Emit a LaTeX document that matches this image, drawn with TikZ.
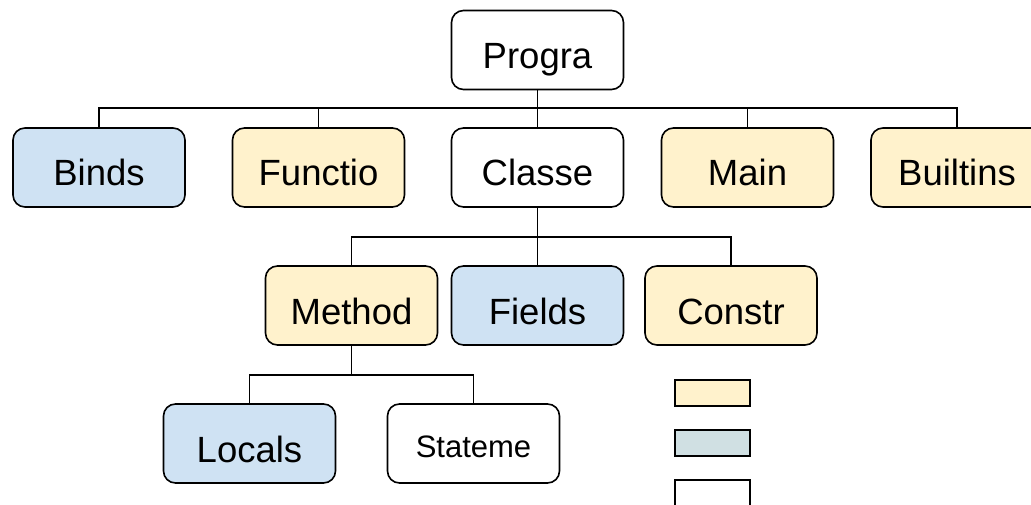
\documentclass[tikz,border=0pt]{standalone}
\usepackage{fontspec}
\setmainfont{Liberation Sans}
\definecolor{tblue}{HTML}{CFE2F3}
\definecolor{tyellow}{HTML}{FFF2CC}
\definecolor{tgrey}{HTML}{D0E0E3}
\begin{document}
\begin{tikzpicture}[x=1pt,y=-1pt,
  tbox/.style={draw, rounded corners=12pt, line width=1.6pt, minimum width=172pt, minimum height=79pt, inner sep=0pt, font=\fontsize{36.5}{40}\selectfont, text height=37pt, text depth=0pt},
  tsmall/.style={font=\fontsize{31}{36}\selectfont, text height=27pt},
  legbox/.style={draw, line width=1.8pt, minimum width=75pt, minimum height=26pt, inner sep=0pt},
  link/.style={line width=1.4pt}]
\useasboundingbox (0,0) rectangle (1031,505);
\node[tbox] (prog) at (537.5,50){Progra};
\node[tbox, fill=tblue] (binds) at (99,167.5){Binds};
\node[tbox, fill=tyellow] (func) at (318.5,167.5){Functio};
\node[tbox] (cls) at (537.5,167.5){Classe};
\node[tbox, fill=tyellow] (main) at (747.5,167.5){Main};
\node[tbox, fill=tyellow] (builtins) at (957,167.5){Builtins};
\coordinate (bus0) at (537.5,108);
\draw[link] (prog) -- (bus0);
\draw[link] (bus0) -| (binds);
\draw[link] (bus0) -| (func);
\draw[link] (bus0) -- (cls);
\draw[link] (bus0) -| (main);
\draw[link] (bus0) -| (builtins);
\node[tbox, fill=tyellow] (meth) at (351.5,305.5){Method};
\node[tbox, fill=tblue] (fields) at (537.5,305.5){Fields};
\node[tbox, fill=tyellow] (constr) at (731,305.5){Constr};
\coordinate (bus1) at (537.5,237);
\draw[link] (cls) -- (bus1);
\draw[link] (bus1) -| (meth);
\draw[link] (bus1) -- (fields);
\draw[link] (bus1) -| (constr);
\node[tbox, fill=tblue] (locals) at (249.5,443.5){Locals};
\node[tbox, tsmall] (stmts) at (473.5,443.5){Stateme};
\coordinate (bus2) at (351.5,375);
\draw[link] (meth) -- (bus2);
\draw[link] (bus2) -| (locals);
\draw[link] (bus2) -| (stmts);
\node[legbox, fill=tyellow] (leg0) at (712.5,393){};
\node[legbox, fill=tgrey] (leg1) at (712.5,443){};
\node[legbox, fill=white] (leg2) at (712.5,493){};
\end{tikzpicture}
\end{document}
